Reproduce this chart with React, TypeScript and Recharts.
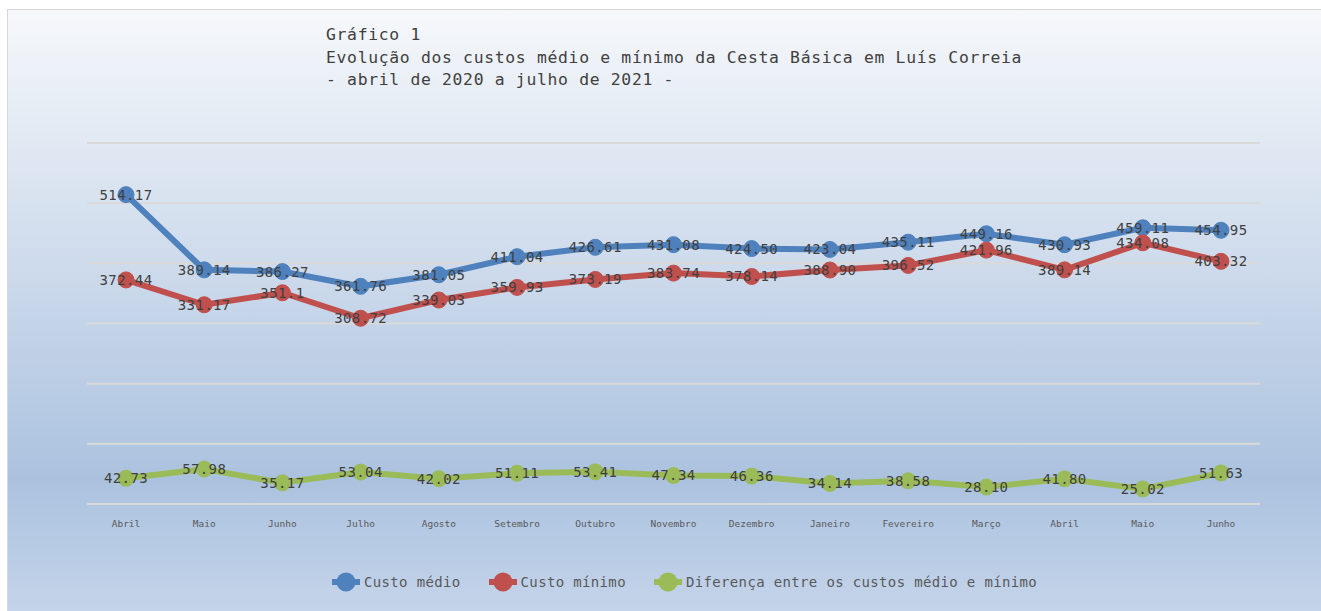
import React from 'react';
import { LineChart, Line, XAxis, YAxis, CartesianGrid, LabelList, Legend } from 'recharts';

const meses = [
  'Abril', 'Maio', 'Junho', 'Julho', 'Agosto', 'Setembro', 'Outubro', 'Novembro',
  'Dezembro', 'Janeiro', 'Fevereiro', 'Março', 'Abril', 'Maio', 'Junho',
];

// values kept as shown in the labels
const custoMedio = [
  '514.17', '389.14', '386.27', '361.76', '381.05', '411.04', '426.61', '431.08',
  '424.50', '423.04', '435.11', '449.16', '430.93', '459.11', '454.95',
];
const custoMinimo = [
  '372.44', '331.17', '351.1', '308.72', '339.03', '359.93', '373.19', '383.74',
  '378.14', '388.90', '396.52', '421.96', '389.14', '434.08', '403.32',
];
const diferenca = [
  '42.73', '57.98', '35.17', '53.04', '42.02', '51.11', '53.41', '47.34',
  '46.36', '34.14', '38.58', '28.10', '41.80', '25.02', '51.63',
];
const yTicks = [0, 100, 200, 300, 400, 500, 600];

const series = [
  { key: 'medio', name: 'Custo médio', color: '#4F81BD', txt: custoMedio },
  { key: 'minimo', name: 'Custo mínimo', color: '#C0504D', txt: custoMinimo },
  { key: 'dif', name: 'Diferença entre os custos médio e mínimo', color: '#9BBB59', txt: diferenca },
];

const data = meses.map((mes, i) => ({
  mes,
  medio: parseFloat(custoMedio[i]),
  minimo: parseFloat(custoMinimo[i]),
  dif: parseFloat(diferenca[i]),
  medioTxt: custoMedio[i],
  minimoTxt: custoMinimo[i],
  difTxt: diferenca[i],
}));

const MONO = '"DejaVu Sans Mono", monospace';

const renderLegend = () => (
  <div style={{ display: 'flex', alignItems: 'center', gap: 27, fontFamily: MONO, fontSize: 14, letterSpacing: 0.35, color: '#595959' }}>
    {series.map(s => (
      <div key={s.key} style={{ display: 'flex', alignItems: 'center' }}>
        <svg width={30} height={22}>
          <line x1={1} y1={11} x2={29} y2={11} stroke={s.color} strokeWidth={6} />
          <circle cx={15} cy={11} r={9.5} fill={s.color} />
        </svg>
        <span style={{ marginLeft: 3 }}>{s.name}</span>
      </div>
    ))}
  </div>
);

const App: React.FC = () => {
  return (
    <div
      style={{
        position: 'absolute',
        left: 7,
        top: 9,
        width: 1314,
        height: 602,
        borderLeft: '1px solid #d6d6d6',
        borderTop: '1px solid #d6d6d6',
        background: 'linear-gradient(to bottom, #f6f8fb 0%, #abc2df 78%, #c4d4ea 100%)',
        overflow: 'hidden',
      }}
    >
      <div
        style={{
          position: 'absolute',
          left: 318,
          top: 14,
          fontFamily: MONO,
          fontSize: 16.4,
          letterSpacing: 0.68,
          lineHeight: '22.5px',
          color: '#404040',
          whiteSpace: 'pre',
        }}
      >
        <div>Gráfico 1</div>
        <div>Evolução dos custos médio e mínimo da Cesta Básica em Luís Correia</div>
        <div>- abril de 2020 a julho de 2021 -</div>
      </div>
      <LineChart width={1313} height={601} data={data} margin={{ top: 133, right: 61, left: 79, bottom: 55 }}>
        <CartesianGrid horizontal vertical={false} stroke="#d9d9d9" strokeWidth={2} />
        <XAxis
          dataKey="mes"
          axisLine={false}
          tickLine={false}
          height={30}
          tickMargin={10}
          padding={{ left: 39, right: 39 }}
          tick={{ fontFamily: MONO, fontSize: 9.5, fill: '#595959' }}
          interval={0}
        />
        <YAxis hide domain={[0, 600]} ticks={yTicks} />
        <Legend
          verticalAlign="bottom"
          content={renderLegend}
          wrapperStyle={{ top: 561, left: 323, height: 22, width: 'auto' }}
        />
        {series.map(s => (
          <Line
            key={s.key}
            dataKey={s.key}
            name={s.name}
            stroke={s.color}
            strokeWidth={6}
            dot={{ r: 8, fill: s.color, stroke: s.color, strokeWidth: 1 }}
            activeDot={false}
            isAnimationActive={false}
          >
            <LabelList
              dataKey={`${s.key}Txt`}
              position="center"
              style={{ fontFamily: MONO, fontSize: 14, letterSpacing: 0.4, fill: '#404040' }}
            />
          </Line>
        ))}
      </LineChart>
    </div>
  );
};

export default App;
